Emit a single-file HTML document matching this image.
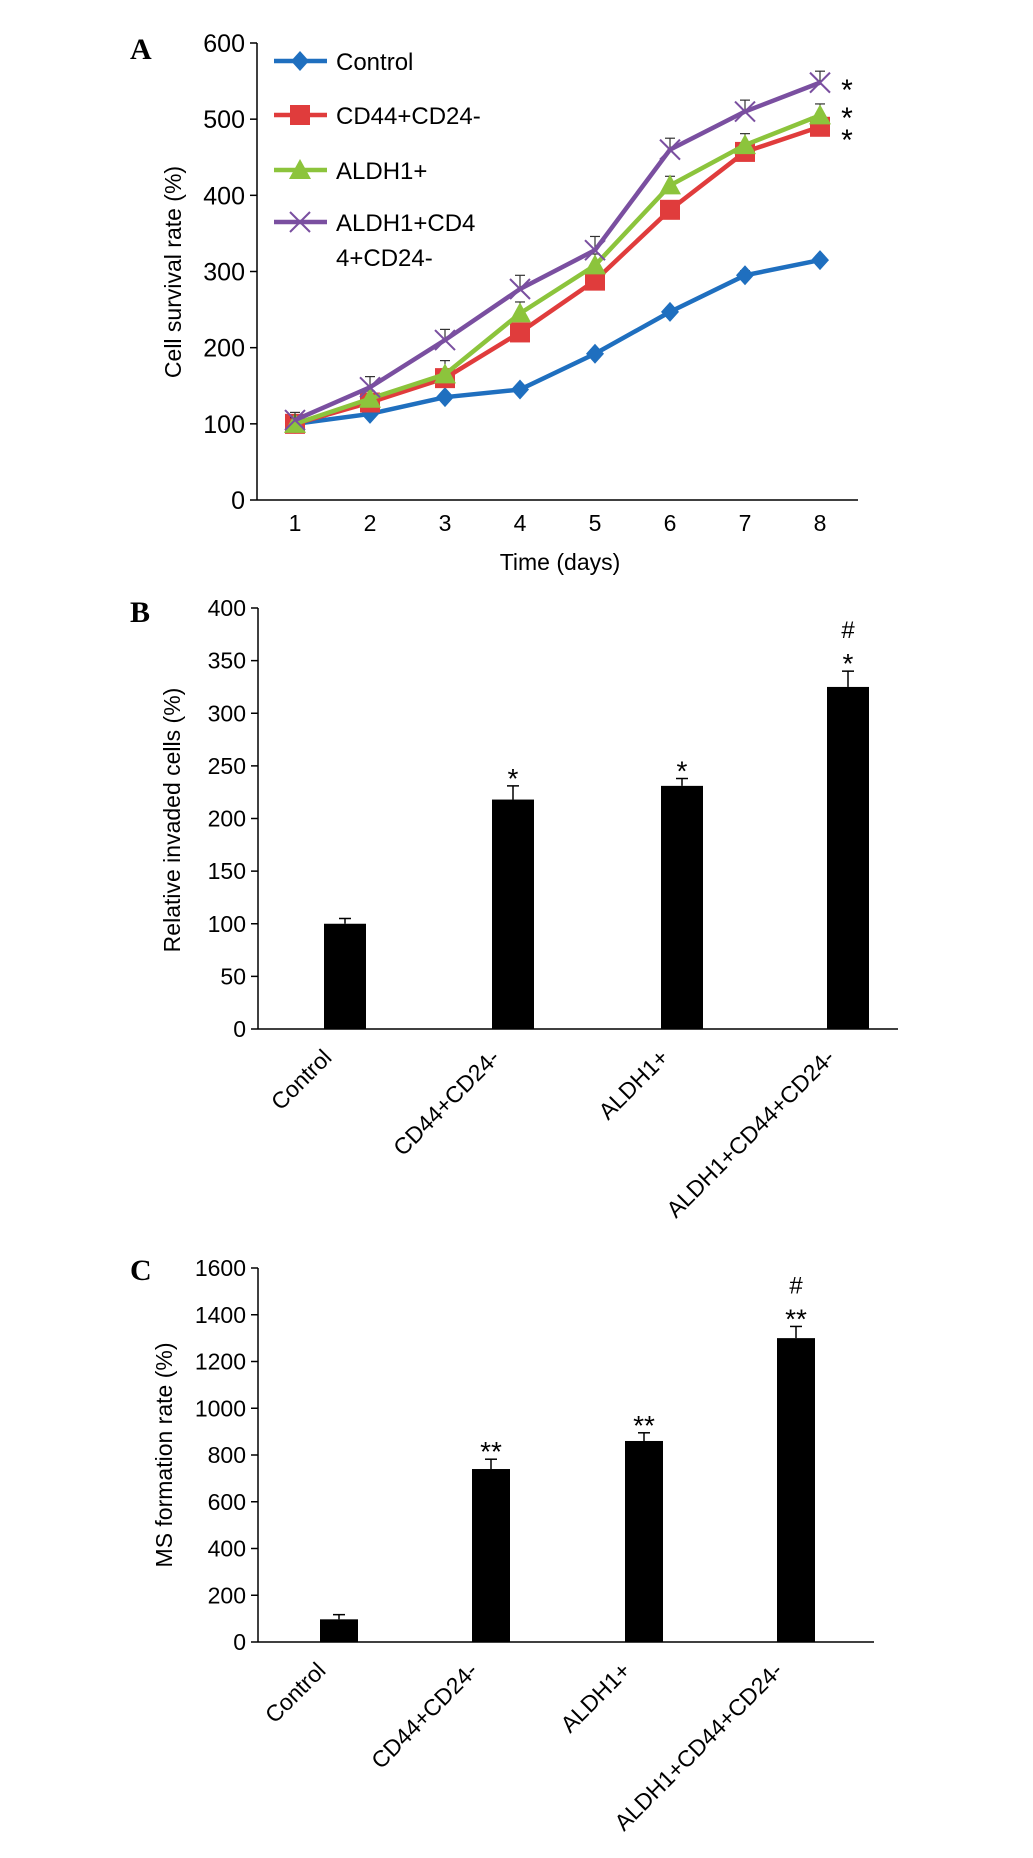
<!DOCTYPE html>
<html><head><meta charset="utf-8"><style>
html,body{margin:0;padding:0;background:#fff}
svg{display:block;font-family:"Liberation Sans",Arial,sans-serif}
</style></head><body>
<svg id="fig" width="1033" height="1858" viewBox="0 0 1033 1858">
<g id="pa"></g>
<g id="pb"></g>
<g id="pc"></g>
</svg>
<script>
// Panel A data
const daysA = [1,2,3,4,5,6,7,8];
const yTicksA = [0,100,200,300,400,500,600];
const seriesNames = ["Control","CD44+CD24-","ALDH1+","ALDH1+CD44+CD24-"];
const controlA = [100,113,135,145,192,247,295,315];
const cd44A = [100,128,160,220,288,381,457,490];
const aldhA = [100,133,165,245,308,413,466,505];
const comboA = [105,148,210,277,328,460,510,548];
const controlErr = [3,3,4,4,5,5,6,5];
const cd44Err = [8,8,12,10,10,10,12,10];
const aldhErr = [8,10,18,15,15,12,15,15];
const comboErr = [10,14,14,18,18,15,15,15];
// Panel B data
const catsB = ["Control","CD44+CD24-","ALDH1+","ALDH1+CD44+CD24-"];
const valsB = [100,218,231,325];
const errB = [5,13,7,15];
const yTicksB = [0,50,100,150,200,250,300,350,400];
// Panel C data
const catsC = ["Control","CD44+CD24-","ALDH1+","ALDH1+CD44+CD24-"];
const valsC = [97,740,860,1300];
const errC = [20,42,35,50];
const yTicksC = [0,200,400,600,800,1000,1200,1400,1600];

const NS="http://www.w3.org/2000/svg";
function mk(parent,tag,attrs,text){const e=document.createElementNS(NS,tag);for(const k in attrs)e.setAttribute(k,attrs[k]);if(text!==undefined)e.textContent=text;parent.appendChild(e);return e;}

// ---------- Panel A ----------
const pa=document.getElementById('pa');
const ax0=257, axEnd=858, y0A=500, yTopA=43;
const xA=d=>295+(d-1)*(820-295)/7;
const yA=v=>y0A-(v/600)*(y0A-yTopA);
let t=mk(pa,'text',{x:130,y:59,'font-family':'Liberation Serif,serif','font-weight':'bold','font-size':30},'A');


let l=mk(pa,'line',{x1:ax0,y1:yTopA,x2:ax0,y2:y0A,stroke:'#000','stroke-width':1.5});


l=mk(pa,'line',{x1:ax0,y1:y0A,x2:axEnd,y2:y0A,stroke:'#000','stroke-width':1.5});


yTicksA.forEach(v=>{
 mk(pa,'line',{x1:ax0-7,y1:yA(v),x2:ax0,y2:yA(v),stroke:'#000','stroke-width':1.5});
 const tt=mk(pa,'text',{x:ax0-12,y:yA(v)+9,'text-anchor':'end','font-size':25},String(v));
 
 
});
daysA.forEach(d=>{
 const tt=mk(pa,'text',{x:xA(d),y:531,'text-anchor':'middle','font-size':23},String(d));
 
 
});
t=mk(pa,'text',{x:560,y:570,'text-anchor':'middle','font-size':23},'Time (days)');


t=mk(pa,'text',{x:0,y:0,'text-anchor':'middle','font-size':23,transform:'translate(181,272) rotate(-90)'},'Cell survival rate (%)');



const colors=['#1f6fbf','#e03c3c','#8cc43c','#7a4fa0'];
const allVals=[controlA,cd44A,aldhA,comboA];
const allErr=[controlErr,cd44Err,aldhErr,comboErr];
function marker(g,i,x,y){
 if(i===0) mk(g,'polygon',{points:`${x},${y-10} ${x+9},${y} ${x},${y+10} ${x-9},${y}`,fill:colors[0]});
 else if(i===1) mk(g,'rect',{x:x-10,y:y-10,width:20,height:20,fill:colors[1]});
 else if(i===2) mk(g,'polygon',{points:`${x},${y-11} ${x+11},${y+9} ${x-11},${y+9}`,fill:colors[2]});
 else {mk(g,'line',{x1:x-10,y1:y-10,x2:x+10,y2:y+10,stroke:colors[3],'stroke-width':2});mk(g,'line',{x1:x-10,y1:y+10,x2:x+10,y2:y-10,stroke:colors[3],'stroke-width':2});}
}
allVals.forEach((vals,i)=>{
 const g=mk(pa,'g',{});
 
 
 vals.forEach((v,j)=>{
  const x=xA(daysA[j]),y=yA(v),ye=yA(v+allErr[i][j]);
  mk(g,'line',{x1:x,y1:y,x2:x,y2:ye,stroke:'#333','stroke-width':1.2});
  mk(g,'line',{x1:x-5,y1:ye,x2:x+5,y2:ye,stroke:'#333','stroke-width':1.2});
 });
 mk(g,'polyline',{points:vals.map((v,j)=>xA(daysA[j])+','+yA(v)).join(' '),fill:'none',stroke:colors[i],'stroke-width':4.5});
 vals.forEach((v,j)=>marker(g,i,xA(daysA[j]),yA(v)));
});
// legend
const legY=[61,115,170,222];
seriesNames.forEach((n,i)=>{
 const g=mk(pa,'g',{});
 
 
 mk(g,'line',{x1:274,y1:legY[i],x2:327,y2:legY[i],stroke:colors[i],'stroke-width':4.5});
 marker(g,i,300,legY[i]);
 if(i<3) mk(g,'text',{x:336,y:legY[i]+9,'font-size':24},n);
 else {mk(g,'text',{x:336,y:legY[i]+9,'font-size':24},'ALDH1+CD4');mk(g,'text',{x:336,y:legY[i]+44,'font-size':24},'4+CD24-');}
});
[[847,100],[847,128],[847,150]].forEach(p=>{
 const s=mk(pa,'text',{x:p[0],y:p[1],'text-anchor':'middle','font-size':30},'*');
 
 
});

// ---------- Bar panels ----------
function barPanel(g,label,labelY,cats,vals,errs,ticks,y0,yTop,ymax,title,titleCX,titleCY,stars,barCx,bw,axEndX){
 const y=v=>y0-(v/ymax)*(y0-yTop);
 let tt=mk(g,'text',{x:130,y:labelY,'font-family':'Liberation Serif,serif','font-weight':'bold','font-size':30},label);
 
 
 let ln=mk(g,'line',{x1:258,y1:yTop,x2:258,y2:y0,stroke:'#000','stroke-width':1.5});
 
 
 ln=mk(g,'line',{x1:258,y1:y0,x2:axEndX,y2:y0,stroke:'#000','stroke-width':1.5});
 
 
 ticks.forEach(v=>{
  mk(g,'line',{x1:251,y1:y(v),x2:258,y2:y(v),stroke:'#000','stroke-width':1.5});
  const a=mk(g,'text',{x:246,y:y(v)+8,'text-anchor':'end','font-size':23},String(v));
  
  
 });
 tt=mk(g,'text',{x:0,y:0,'text-anchor':'middle','font-size':23,transform:`translate(${titleCX},${titleCY}) rotate(-90)`},title);
 
 
 cats.forEach((c,i)=>{
  const cx=barCx[i];
  const r=mk(g,'rect',{x:cx-bw/2,y:y(vals[i]),width:bw,height:y0-y(vals[i]),fill:'#000'});
  
  
  const ye=y(vals[i]+errs[i]);
  mk(g,'line',{x1:cx,y1:y(vals[i]),x2:cx,y2:ye,stroke:'#000','stroke-width':1.5});
  mk(g,'line',{x1:cx-6,y1:ye,x2:cx+6,y2:ye,stroke:'#000','stroke-width':1.5});
  const lab=mk(g,'text',{x:0,y:0,'text-anchor':'end','font-size':23,transform:`translate(${cx-12},${y0+30}) rotate(-45)`},c);
  
  
  let sy=ye-12;
  stars[i].forEach(s=>{
   const st=mk(g,'text',{x:cx,y:sy+(s==='#'?6:14),'text-anchor':'middle','font-size':s==='#'?24:28},s);
   
   
   sy-=27;
  });
 });
}
barPanel(document.getElementById('pb'),'B',622,catsB,valsB,errB,yTicksB,1029,608,400,'Relative invaded cells (%)',180,820,[[],['*'],['*'],['*','#']],[345,513,682,848],42,898);
barPanel(document.getElementById('pc'),'C',1280,catsC,valsC,errC,yTicksC,1642,1268,1600,'MS formation rate (%)',172,1455,[[],['**'],['**'],['**','#']],[339,491,644,796],38,874);
</script>
</body></html>
